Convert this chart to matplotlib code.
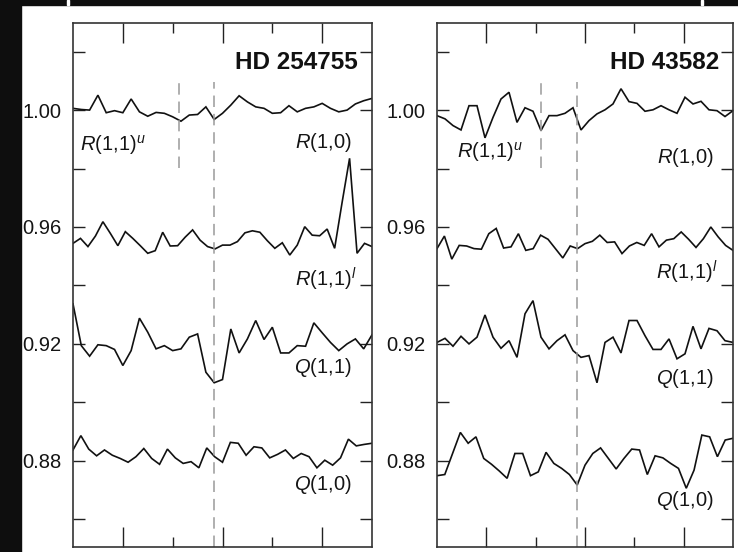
import numpy as np
import matplotlib
matplotlib.use("Agg")
import matplotlib.pyplot as plt
from matplotlib.patches import Rectangle

plt.rcParams['font.family'] = ['Liberation Sans', 'DejaVu Sans']
plt.rcParams['mathtext.fontset'] = 'custom'
plt.rcParams['mathtext.rm'] = 'Liberation Sans'
plt.rcParams['mathtext.it'] = 'Liberation Sans:italic'

# relative flux (velocity grid spans the whole axis)
hd254755_r10 = [1.0006, 1.0002, 1.0000, 1.0051, 0.9991, 0.9998, 0.9991, 1.0038, 0.9994, 0.9979,
                0.9992, 0.9989, 0.9977, 0.9962, 0.9983, 0.9985, 1.0011, 0.9968, 0.9989, 1.0017,
                1.0049, 1.0028, 1.0011, 1.0006, 0.9989, 0.9991, 1.0015, 0.9994, 1.0006, 1.0011,
                1.0023, 1.0006, 0.9994, 1.0000, 1.0021, 1.0032, 1.0040]
hd254755_r11l = [0.9544, 0.9561, 0.9533, 0.9569, 0.9618, 0.9578, 0.9536, 0.9584, 0.9561, 0.9536,
                 0.9510, 0.9519, 0.9582, 0.9535, 0.9536, 0.9565, 0.9590, 0.9555, 0.9533, 0.9525,
                 0.9538, 0.9538, 0.9550, 0.9580, 0.9587, 0.9582, 0.9553, 0.9527, 0.9546, 0.9504,
                 0.9538, 0.9601, 0.9572, 0.9570, 0.9593, 0.9527, 0.9684, 0.9835, 0.9510, 0.9544,
                 0.9533]
hd254755_q11 = [0.9337, 0.9194, 0.9158, 0.9197, 0.9194, 0.9181, 0.9126, 0.9177, 0.9288, 0.9240,
                0.9183, 0.9194, 0.9177, 0.9183, 0.9223, 0.9234, 0.9103, 0.9067, 0.9078, 0.9251,
                0.9169, 0.9217, 0.9280, 0.9215, 0.9257, 0.9169, 0.9169, 0.9194, 0.9192, 0.9272,
                0.9238, 0.9205, 0.9177, 0.9200, 0.9217, 0.9183, 0.9231]
hd254755_q10 = [0.8837, 0.8886, 0.8840, 0.8817, 0.8837, 0.8819, 0.8808, 0.8795, 0.8814, 0.8842,
                0.8808, 0.8788, 0.8840, 0.8810, 0.8791, 0.8797, 0.8776, 0.8844, 0.8814, 0.8795,
                0.8863, 0.8860, 0.8819, 0.8848, 0.8844, 0.8810, 0.8822, 0.8837, 0.8808, 0.8825,
                0.8814, 0.8776, 0.8802, 0.8785, 0.8810, 0.8874, 0.8851, 0.8856, 0.8860]

hd43582_r10 = [0.9981, 0.9970, 0.9947, 0.9932, 1.0015, 1.0015, 0.9905, 0.9975, 1.0038, 1.0061,
               0.9958, 1.0008, 0.9996, 0.9930, 0.9981, 0.9981, 0.9989, 1.0008, 0.9932, 0.9964,
               0.9987, 1.0001, 1.0021, 1.0073, 1.0029, 1.0023, 0.9996, 1.0001, 1.0015, 1.0001,
               0.9989, 1.0044, 1.0021, 1.0030, 1.0001, 0.9998, 0.9978, 0.9998]
hd43582_r11l = [0.9526, 0.9569, 0.9490, 0.9537, 0.9535, 0.9526, 0.9524, 0.9577, 0.9595, 0.9528,
                0.9532, 0.9577, 0.9520, 0.9526, 0.9572, 0.9558, 0.9526, 0.9494, 0.9535, 0.9526,
                0.9543, 0.9551, 0.9572, 0.9547, 0.9549, 0.9509, 0.9535, 0.9547, 0.9537, 0.9577,
                0.9532, 0.9555, 0.9560, 0.9583, 0.9558, 0.9530, 0.9560, 0.9600, 0.9566, 0.9537,
                0.9520]
hd43582_q11 = [0.9205, 0.9219, 0.9192, 0.9226, 0.9200, 0.9223, 0.9299, 0.9223, 0.9185, 0.9211,
               0.9154, 0.9303, 0.9348, 0.9223, 0.9183, 0.9211, 0.9231, 0.9177, 0.9154, 0.9160,
               0.9067, 0.9205, 0.9223, 0.9169, 0.9280, 0.9280, 0.9228, 0.9181, 0.9181, 0.9217,
               0.9149, 0.9166, 0.9260, 0.9183, 0.9253, 0.9245, 0.9211, 0.9205]
hd43582_q10 = [0.8749, 0.8753, 0.8825, 0.8897, 0.8860, 0.8882, 0.8808, 0.8788, 0.8765, 0.8740,
               0.8825, 0.8825, 0.8749, 0.8762, 0.8829, 0.8791, 0.8774, 0.8753, 0.8717, 0.8785,
               0.8825, 0.8844, 0.8808, 0.8772, 0.8808, 0.8840, 0.8837, 0.8753, 0.8817, 0.8810,
               0.8791, 0.8774, 0.8706, 0.8768, 0.8888, 0.8882, 0.8814, 0.8871, 0.8877]

star_names = ['HD 254755', 'HD 43582']
line_names = [r'$R\mathrm{(1{,}1)}^{u}$', r'$R\mathrm{(1{,}0)}$', r'$R\mathrm{(1{,}1)}^{l}$',
              r'$Q\mathrm{(1{,}1)}$', r'$Q\mathrm{(1{,}0)}$']
# label heights (flux) for each star, same order as line_names
label_y = [[0.9880, 0.9888, 0.9420, 0.9118, 0.8718],
           [0.9858, 0.9839, 0.9446, 0.9083, 0.8663]]
# velocity of the two dashed markers
marker_v = [[-8.7, -1.7], [-8.9, -1.6]]

vel_range = (-30, 30)
flux_range = (0.8505, 1.0298)
major_flux = [0.88, 0.92, 0.96, 1.00]
minor_flux = [0.86, 0.90, 0.94, 0.98, 1.02]

fig = plt.figure(figsize=(7.38, 5.52), dpi=100, facecolor='white')

# black frame strips of the original scan
fig.patches.append(Rectangle((0, 0), 21 / 738, 1, transform=fig.transFigure, color='#0e0e0e', zorder=0))
fig.patches.append(Rectangle((0, 1 - 5 / 552), 1, 5 / 552, transform=fig.transFigure, color='#0e0e0e', zorder=0))
for xp in [67, 701]:
    fig.patches.append(Rectangle((xp / 738, 1 - 5 / 552), 2 / 738, 5 / 552, transform=fig.transFigure,
                                 color='white', zorder=1))

axes = [fig.add_axes([73 / 738, 5 / 552, 299 / 738, 524 / 552]),
        fig.add_axes([437 / 738, 5 / 552, 296 / 738, 524 / 552])]

panels = [[hd254755_r10, hd254755_r11l, hd254755_q11, hd254755_q10],
          [hd43582_r10, hd43582_r11l, hd43582_q11, hd43582_q10]]

for i, ax in enumerate(axes):
    for flux in panels[i]:
        v = np.linspace(vel_range[0], vel_range[1], len(flux))
        ax.plot(v, flux, color='#111111', lw=1.2, solid_joinstyle='miter')

    m1, m2 = marker_v[i]
    ax.plot([m1, m1], [0.9802, 1.0095], color='#9a9a9a', lw=1.1, dashes=(7.5, 4.5))
    ax.plot([m2, m2], [flux_range[0], 1.0095], color='#9a9a9a', lw=1.1, dashes=(7.5, 4.5))

    ax.set_xlim(vel_range)
    ax.set_ylim(flux_range)
    ax.set_xticks([-20, 0, 20])
    ax.set_xticks([-10, 10], minor=True)
    ax.set_yticks(major_flux)
    ax.set_yticks(minor_flux, minor=True)
    ax.set_yticklabels(['%.2f' % f for f in major_flux])
    ax.tick_params(axis='x', which='major', direction='in', length=14.5, width=1.0,
                   top=True, bottom=True, labelbottom=False, color='#222222')
    ax.tick_params(axis='x', which='minor', direction='in', length=7.5, width=1.0,
                   top=True, bottom=True, color='#222222')
    ax.tick_params(axis='y', which='both', direction='in', length=8.8, width=1.0,
                   left=True, right=True, color='#222222')
    ax.tick_params(axis='y', which='major', labelsize=14.5, pad=8.5, labelcolor='#151515')
    for sp in ax.spines.values():
        sp.set_linewidth(1.2)
        sp.set_color('#333333')

    ax.text(0.952, 0.924, star_names[i], transform=ax.transAxes, ha='right', va='center',
            fontsize=17.5, fontweight='bold', color='#111111')

    ly = label_y[i]
    ax.text(-28.6 if i == 0 else -25.9, ly[0], line_names[0], ha='left', va='center',
            fontsize=14.5, color='#151515')
    for k in range(1, 5):
        xr = 26.9 if k == 2 else 26.0
        ax.text(xr, ly[k], line_names[k], ha='right', va='center', fontsize=14.5, color='#151515')

fig.savefig('out.png', dpi=100, facecolor='white')
